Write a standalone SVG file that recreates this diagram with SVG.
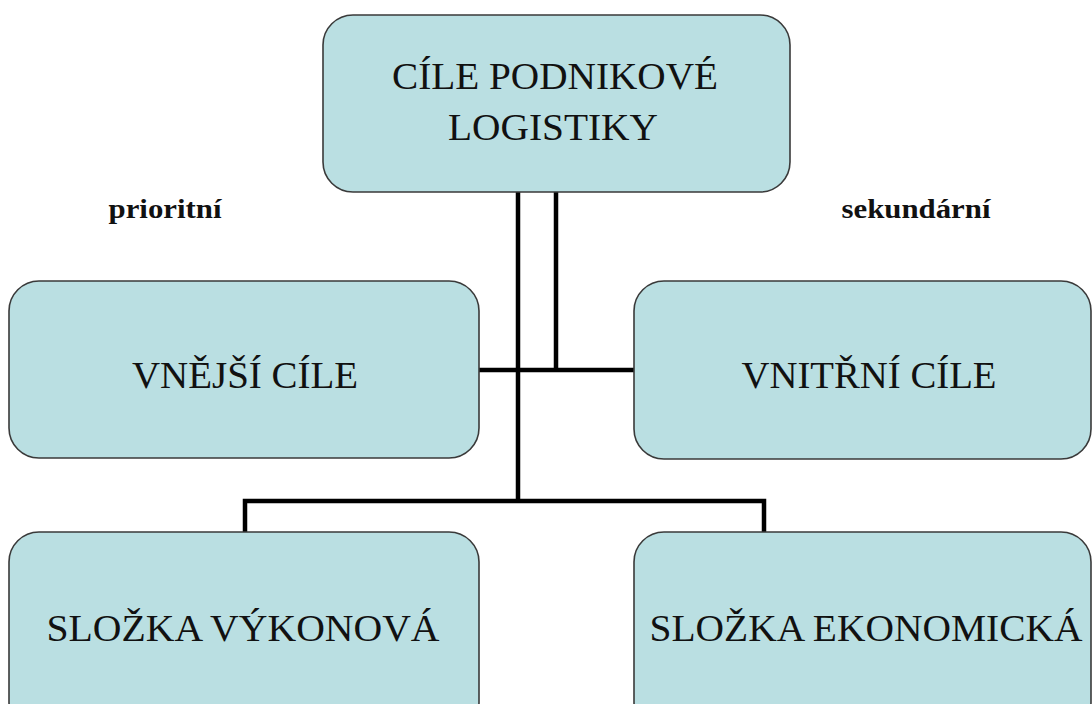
<svg xmlns="http://www.w3.org/2000/svg" width="1092" height="704" viewBox="0 0 1092 704">
<style>
.box{fill:#BADFE2;stroke:#3a3a3a;stroke-width:1.6}
.t{font-family:"Liberation Serif","Times New Roman",serif;font-size:38px;fill:#111;text-anchor:middle}
.lbl{font-family:"Liberation Serif","Times New Roman",serif;font-size:27px;font-weight:bold;fill:#111;text-anchor:middle}
.c{fill:none;stroke:#000;stroke-width:4.5;stroke-linejoin:miter}
</style>
<rect width="1092" height="704" fill="#fff"/>
<g id="connectors">
<path class="c" d="M518 192 V502"/>
<path class="c" d="M556 192 V370"/>
<path class="c" d="M479 370 H634"/>
<path class="c" d="M245 532 V501 H764 V532"/>
</g>
<g id="node-top">
<rect class="box" x="323" y="15" width="467" height="177" rx="30"/>
<text class="t" x="555" y="89" textLength="326" lengthAdjust="spacingAndGlyphs">CÍLE PODNIKOVÉ</text>
<text class="t" x="553" y="140" textLength="210" lengthAdjust="spacingAndGlyphs">LOGISTIKY</text>
</g>
<g id="node-vnejsi">
<rect class="box" x="9" y="281" width="470" height="177" rx="30"/>
<text class="t" x="245" y="388" textLength="226" lengthAdjust="spacingAndGlyphs">VNĚJŠÍ CÍLE</text>
</g>
<g id="node-vnitrni">
<rect class="box" x="634" y="281" width="457" height="178" rx="30"/>
<text class="t" x="869" y="388" textLength="255" lengthAdjust="spacingAndGlyphs">VNITŘNÍ CÍLE</text>
</g>
<g id="node-vykonova">
<rect class="box" x="9" y="532" width="470" height="200" rx="30"/>
<text class="t" x="243" y="641" textLength="393" lengthAdjust="spacingAndGlyphs">SLOŽKA VÝKONOVÁ</text>
</g>
<g id="node-ekonomicka">
<rect class="box" x="634" y="532" width="457" height="200" rx="30"/>
<text class="t" x="866" y="641" textLength="433" lengthAdjust="spacingAndGlyphs">SLOŽKA EKONOMICKÁ</text>
</g>
<g id="labels">
<text class="lbl" x="165" y="218" textLength="113" lengthAdjust="spacingAndGlyphs">prioritní</text>
<text class="lbl" x="916" y="218" textLength="149" lengthAdjust="spacingAndGlyphs">sekundární</text>
</g>
</svg>
